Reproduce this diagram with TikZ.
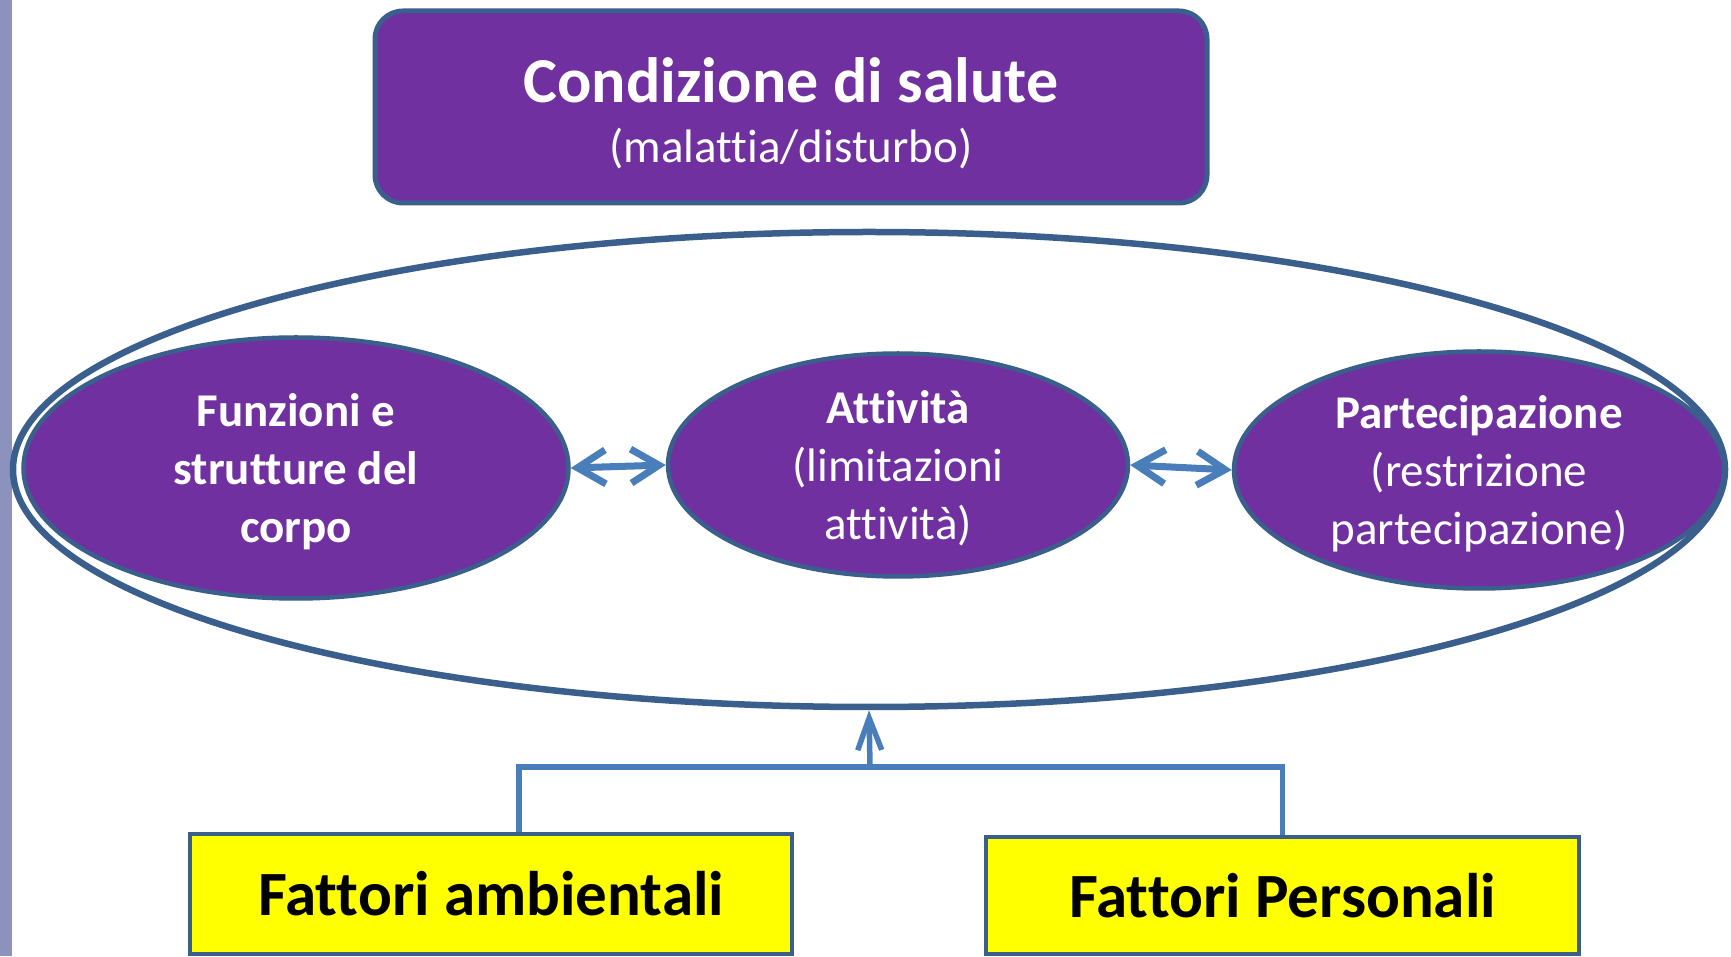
\documentclass[tikz,border=0pt]{standalone}
\usepackage{fontspec}
\setmainfont{Carlito}[Ligatures=NoCommon]
\usepackage{tikz}
\usetikzlibrary{arrows.meta,shapes.geometric,positioning,calc}
\definecolor{viola}{HTML}{7030A0}
\definecolor{bordo}{HTML}{3A5F8C}
\definecolor{freccia}{HTML}{4A7EBB}
\definecolor{giallo}{HTML}{FFFF00}
\definecolor{striscia}{HTML}{8C92BE}
\newcommand{\alza}[1]{\rule{0pt}{#1}}
\newcommand{\nodepth}[1]{\raisebox{0pt}[\height][0pt]{#1}}

\begin{document}
\begin{tikzpicture}[x=1pt, y=1pt,
		box/.style = {rectangle, rounded corners=28pt, draw=bordo, line width=5pt, fill=viola, text=white, align=center, inner sep=0pt},
		comp/.style = {ellipse, draw=bordo, line width=4.5pt, fill=viola, text=white, align=center, inner sep=0pt, font=\fontsize{47}{58}\selectfont},
		fattore/.style = {rectangle, draw=bordo, line width=4.5pt, fill=giallo, inner sep=0pt, font=\fontsize{63}{75}\selectfont\bfseries},
		link/.style = {draw=freccia, line width=5.5pt},
		dbl/.style = {link, line width=7pt, {Straight Barb[length=28pt,width=34pt,line width=7pt]}-{Straight Barb[length=28pt,width=34pt,line width=7pt]}},
		up/.style = {link, -{Straight Barb[length=32pt,width=24pt,line width=5.5pt]}}
		]
		\useasboundingbox (0,0) rectangle (1731,956);
		\fill[striscia] (0,0) rectangle (12,956);
		
		% condizione di salute
		\node (cond) [box, minimum width=832pt, minimum height=192pt, font=\fontsize{47}{60}\selectfont] at (791,849)
		{{\fontsize{64}{64}\selectfont\bfseries\alza{58pt}Condizione di salute}\\(malattia/disturbo)};
		
		% ellisse grande e componenti
		\node (corpo) [ellipse, draw=bordo, line width=6.5pt, minimum width=1712pt, minimum height=475pt] at (869,486.5) {};
		\node (funz) [comp, minimum width=545pt, minimum height=261pt] at (296,488) {\bfseries Funzioni e\\\bfseries strutture del\\\bfseries\nodepth{corpo}};
		\node (att) [comp, minimum width=460pt, minimum height=223pt] at (898,491) {\bfseries Attività\\(limitazioni\\\nodepth{attività)}};
		\node (part) [comp, minimum width=490pt, minimum height=237pt] at (1479,486) {\bfseries Partecipazione\\(restrizione\\\nodepth{partecipazione)}};
		
		\path
		(funz.east) edge [dbl] (att.west)
		(att.east)  edge [dbl] (part.west);
		
		% fattori contestuali
		\node (fa) [fattore, minimum width=602pt, minimum height=120pt] at (491,62) {Fattori ambientali};
		\node (fp) [fattore, minimum width=593pt, minimum height=117pt] at (1282.5,60.5) {Fattori Personali};
		\coordinate (j) at (870,189);
		
		\draw[link] ([xshift=28pt]fa.north) |- (j) -| (fp.north);
		\draw[up] (j) -- (corpo.south);
		
		\end{tikzpicture}
\end{document}
